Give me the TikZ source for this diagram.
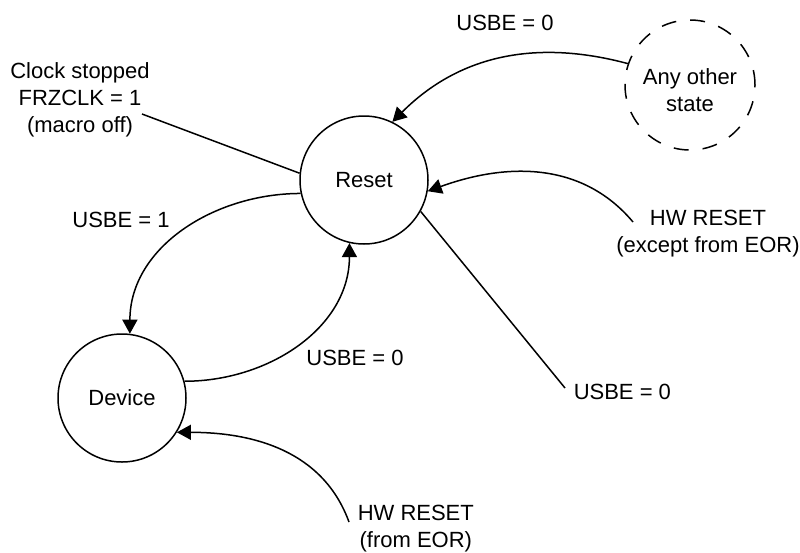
\documentclass[tikz,border=0pt]{standalone}
\usepackage{fontspec}
\setmainfont{Liberation Sans}
\usetikzlibrary{arrows.meta}

\begin{document}
\begin{tikzpicture}[x=1pt,y=1pt,line width=1.5pt,
    font=\fontsize{22}{27}\selectfont,
    state/.style={draw,circle,minimum size=128pt,inner sep=0pt,align=center},
    lbl/.style={align=center,inner sep=0pt},
    trans/.style={-{Triangle[length=14pt,width=15pt]}}]
    \useasboundingbox (0,0) rectangle (800,-552);

    \node[state] (reset) at (364,-180) {Reset};
    \node[state] (device) at (122,-398) {Device};
    \node[state,minimum size=130pt,dash pattern=on 15pt off 14pt] (other) at (690,-85) {};
    \node[lbl] (othertext) at (690,-90) {Any other\\state};

    \node[lbl] (clock) at (80,-100) {Clock stopped\\FRZCLK = 1\\(macro off)};
    \node[lbl] (usbeone) at (121,-220) {USBE = 1};
    \node[lbl] (usbemid) at (355,-358) {USBE = 0};
    \node[lbl,anchor=west] (usberight) at (573,-392) {USBE = 0};
    \node[lbl] (usbetop) at (505,-23) {USBE = 0};
    \node[lbl] (hwexc) at (708,-234) {HW RESET\\(except from EOR)};
    \node[lbl,anchor=west] (hweor) at (357,-529) {HW RESET\\(from EOR)};

    \coordinate (clockend) at (142,-114);
    \coordinate (usbeend) at (565,-388);
    \coordinate (hwexcstart) at (633,-222);
    \coordinate (hweorstart) at (349,-522);

    \draw (clockend) -- (reset.174);
    \draw (reset.-29) -- (usbeend);
    \draw[trans] (other.161) to[out=165,in=45] (reset.64);
    \draw[trans] (hwexcstart) to[out=130,in=20] (reset.-10);
    \draw[trans] (reset.192) to[out=180,in=90] (device.83);
    \draw[trans] (device.15) to[out=0,in=-90] (reset.257);
    \draw[trans] (hweorstart) to[out=110,in=0] (device.-32);
\end{tikzpicture}
\end{document}
